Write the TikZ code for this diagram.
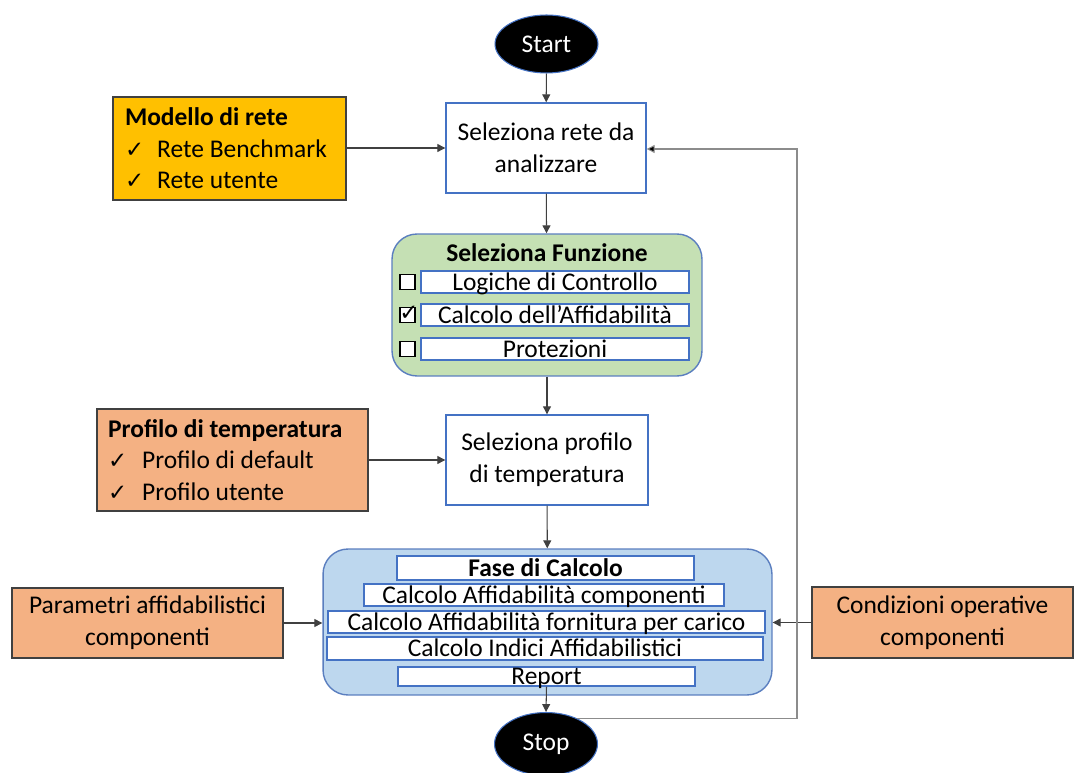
\documentclass[tikz,border=0pt]{standalone}
\usepackage{fontspec}
\setmainfont{Carlito}
\newfontfamily\symfont{DejaVu Sans}
\usetikzlibrary{shapes.geometric,arrows.meta}

\definecolor{outlineblue}{HTML}{4472C4}
\definecolor{panelline}{HTML}{5A7EBF}
\definecolor{greenfill}{HTML}{C5E0B4}
\definecolor{bluefill}{HTML}{BDD7EE}
\definecolor{orangefill}{HTML}{F4B183}
\definecolor{yellowfill}{HTML}{FFC000}
\definecolor{extline}{HTML}{404040}
\definecolor{linkgray}{HTML}{404040}
\definecolor{fbgray}{HTML}{8C8C8C}

\newcommand\chkmark{{\symfont\fontsize{13}{13}\selectfont ✓}}
\newcommand\bodyfont{\fontsize{14.5}{18}\selectfont}

\tikzset{
  terminal/.style={ellipse, fill=black, draw=outlineblue, line width=0.6pt,
    text=white, minimum width=2.06cm, minimum height=1.16cm, inner sep=0pt},
  procbox/.style={rectangle, draw=outlineblue, fill=white, line width=0.8pt,
    align=center, inner sep=0pt},
  panel/.style={rectangle, rounded corners=0.5cm, draw=panelline, line width=0.8pt},
  inbox/.style={rectangle, draw=outlineblue, fill=white, line width=0.8pt,
    inner sep=0pt, text height=0.35cm, text depth=0.02cm},
  extbox/.style={rectangle, draw=extline, fill=orangefill, line width=0.8pt},
  chkbox/.style={rectangle, draw=black, fill=white, line width=0.6pt,
    minimum size=0.3cm, inner sep=0pt},
  link/.style={draw=linkgray, line width=0.6pt,
    -{Triangle[length=4.5pt,width=4.5pt]}},
  feedback/.style={draw=fbgray, line width=0.6pt,
    -{Triangle[length=4.5pt,width=4.5pt,fill=black]}},
}

\begin{document}
\begin{tikzpicture}[x=0.02cm, y=-0.02cm, font=\bodyfont]
\useasboundingbox (0,0) rectangle (1075,773);

% main column
\node[terminal] (start) at (546.5,44) {Start};
\node[procbox, minimum width=4cm, minimum height=1.8cm] (selrete) at (546,148)
  {Seleziona rete da\\analizzare};

% network model input
\node[extbox, fill=yellowfill, minimum width=4.66cm, minimum height=2.06cm,
  text width=4.18cm, inner xsep=0.24cm, align=flush left] (modello) at (229.5,148.5)
  {\textbf{Modello di rete}\\
   \chkmark\hspace{0.26cm}Rete Benchmark\\
   \chkmark\hspace{0.26cm}Rete utente};

% function selection panel
\node[panel, fill=greenfill, minimum width=6.2cm, minimum height=2.84cm] (funz) at (547,305) {};
\node[font=\bodyfont\bfseries, inner sep=0pt] (funztitle) at (547,253) {Seleziona Funzione};
\node[inbox, minimum width=5.36cm, minimum height=0.44cm] (logiche) at (555,282) {Logiche di Controllo};
\node[inbox, minimum width=5.36cm, minimum height=0.44cm] (affid) at (555,315) {Calcolo dell’Affidabilità};
\node[inbox, minimum width=5.36cm, minimum height=0.44cm] (protez) at (555,349) {Protezioni};
\node[chkbox] (chk1) at (407.5,282) {};
\node[chkbox] (chk2) at (407.5,315) {};
\node[chkbox] (chk3) at (407.5,349) {};
\node[inner sep=0pt] (chk2mark) at (409,313) {\chkmark};

% temperature profile
\node[procbox, minimum width=4.04cm, minimum height=1.8cm] (selprof) at (547,460)
  {Seleziona profilo\\di temperatura};
\node[extbox, minimum width=5.42cm, minimum height=2.04cm,
  text width=4.98cm, inner xsep=0.22cm, align=flush left] (profilo) at (232.5,460)
  {\textbf{Profilo di temperatura}\\
   \chkmark\hspace{0.3cm}Profilo di default\\
   \chkmark\hspace{0.3cm}Profilo utente};

% computation panel
\node[panel, fill=bluefill, minimum width=8.98cm, minimum height=2.92cm] (calc) at (547.5,622) {};
\node[inbox, minimum width=5.94cm, minimum height=0.48cm, font=\bodyfont\bfseries] (fase) at (545.5,568) {Fase di Calcolo};
\node[inbox, minimum width=7.2cm, minimum height=0.44cm] (compon) at (544,595) {Calcolo Affidabilità componenti};
\node[inbox, minimum width=8.74cm, minimum height=0.44cm] (fornit) at (546.5,622) {Calcolo Affidabilità fornitura per carico};
\node[inbox, minimum width=8.72cm, minimum height=0.46cm] (indici) at (545,648.5) {Calcolo Indici Affidabilistici};
\node[inbox, minimum width=5.94cm, minimum height=0.38cm] (report) at (546.5,676.5) {Report};

% side inputs
\node[extbox, minimum width=5.42cm, minimum height=1.4cm, align=center] (param) at (147.5,623)
  {Parametri affidabilistici\\componenti};
\node[extbox, minimum width=5.22cm, minimum height=1.42cm, align=center] (condiz) at (942.5,622.5)
  {Condizioni operative\\componenti};

\node[terminal, minimum height=1.26cm] (stop) at (546,744) {Stop};

% connectors
\draw[link] (start) -- (selrete);
\draw[link] (modello.east |- selrete.east) -- (selrete.west);
\draw[link] (selrete) -- (funz);
\draw[link] (funz) -- (selprof);
\draw[link] (profilo.east |- selprof.west) -- (selprof.west);
\draw[link] (selprof) -- (calc);
\draw[link] (param.east) -- (param.east -| calc.west);
\draw[link] (condiz.west) -- (condiz.west -| calc.east);
\draw[link] (report.south) -- (stop.north);

% loop back to the network selection
\coordinate (loopcorner) at (797,149);
\draw[feedback] (stop.40) -- (stop.40 -| loopcorner) -- (loopcorner) -- (selrete.east |- loopcorner);
\end{tikzpicture}
\end{document}
